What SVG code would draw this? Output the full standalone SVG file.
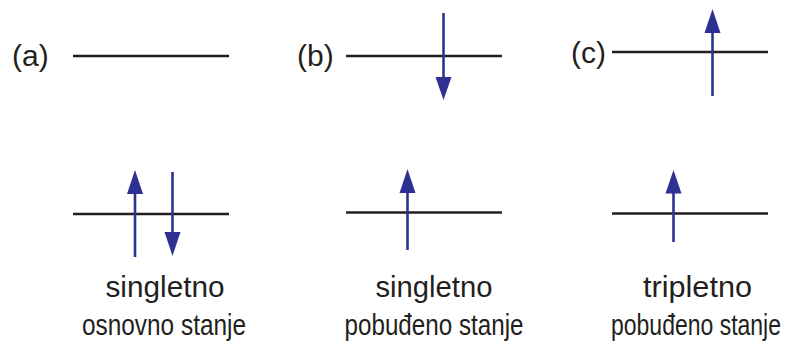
<svg xmlns="http://www.w3.org/2000/svg" width="810" height="346" viewBox="0 0 810 346">
<style>
.lvl{stroke:#231f20;stroke-width:2.6;fill:none}
.spin{stroke:#2e3192;stroke-width:2.6;fill:none}
.head{fill:#2e3192}
.lbl{font-family:"Liberation Sans",Arial,sans-serif;font-size:30px;fill:#231f20}
.cap{font-family:"Liberation Sans",Arial,sans-serif;font-size:29px;fill:#231f20;text-anchor:middle}
</style>
<rect width="810" height="346" fill="#ffffff"/>
<g id="connectors"/>
<g id="a">
  <text class="lbl" x="12" y="66">(a)</text>
  <line class="lvl" x1="73" y1="56" x2="229" y2="56"/>
  <line class="lvl" x1="73" y1="214" x2="229" y2="214"/>
  <line class="spin" x1="135" y1="257" x2="135" y2="190"/>
  <polygon class="head" points="135,170 127,194 143,194"/>
  <line class="spin" x1="172.5" y1="172" x2="172.5" y2="236"/>
  <polygon class="head" points="172.5,256 164.5,232 180.5,232"/>
  <text class="cap" x="165" y="297" textLength="119" lengthAdjust="spacingAndGlyphs">singletno</text>
  <text class="cap" x="164" y="335" textLength="164" lengthAdjust="spacingAndGlyphs">osnovno stanje</text>
</g>
<g id="b">
  <text class="lbl" x="297" y="66">(b)</text>
  <line class="lvl" x1="346" y1="56" x2="502" y2="56"/>
  <line class="spin" x1="443.5" y1="13" x2="443.5" y2="80"/>
  <polygon class="head" points="443.5,100 435.5,77 451.5,77"/>
  <line class="lvl" x1="346" y1="212.5" x2="502" y2="212.5"/>
  <line class="spin" x1="407.5" y1="250" x2="407.5" y2="189"/>
  <polygon class="head" points="407.5,169 399.5,193 415.5,193"/>
  <text class="cap" x="434" y="297" textLength="117" lengthAdjust="spacingAndGlyphs">singletno</text>
  <text class="cap" x="434" y="335" textLength="179" lengthAdjust="spacingAndGlyphs">pobuđeno stanje</text>
</g>
<g id="c">
  <text class="lbl" x="571" y="63">(c)</text>
  <line class="lvl" x1="612" y1="52" x2="768" y2="52"/>
  <line class="spin" x1="712.5" y1="96" x2="712.5" y2="29"/>
  <polygon class="head" points="712.5,9 704.5,33 720.5,33"/>
  <line class="lvl" x1="612" y1="213.5" x2="768" y2="213.5"/>
  <line class="spin" x1="673.5" y1="242" x2="673.5" y2="190"/>
  <polygon class="head" points="673.5,170 665.5,193.5 681.5,193.5"/>
  <text class="cap" x="697.5" y="297" textLength="109" lengthAdjust="spacingAndGlyphs">tripletno</text>
  <text class="cap" x="696" y="335" textLength="170" lengthAdjust="spacingAndGlyphs">pobuđeno stanje</text>
</g>
</svg>
